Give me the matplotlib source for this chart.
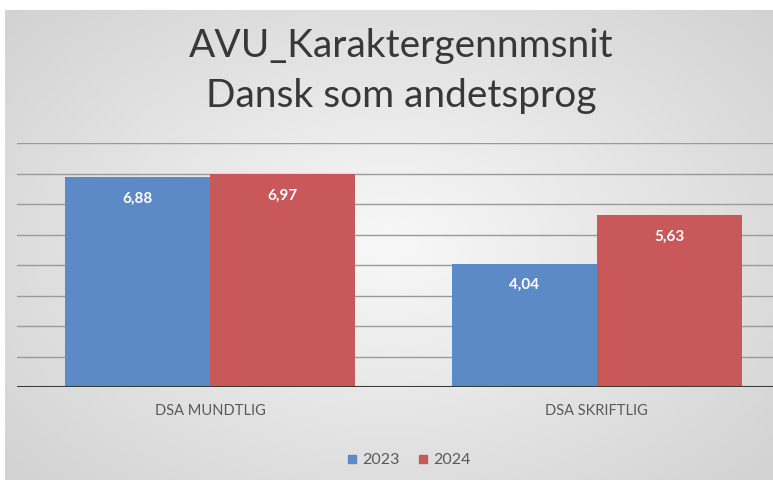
import numpy as np
import matplotlib
matplotlib.use("Agg")
import matplotlib.pyplot as plt
from matplotlib.lines import Line2D

categories = ["DSA MUNDTLIG", "DSA SKRIFTLIG"]
years = ["2023", "2024"]
values_2023 = [6.88, 4.04]
values_2024 = [6.97, 5.63]
labels_2023 = ["6,88", "4,04"]
labels_2024 = ["6,97", "5,63"]

blue = "#5B8AC6"
red = "#C9585A"

plt.rcParams['font.family'] = ['Lato', 'DejaVu Sans']

fig = plt.figure(figsize=(7.73, 4.84), dpi=100)

# radial grey background of the chart area
bg = fig.add_axes([5 / 773, 4 / 484, 1 - 5 / 773, 470 / 484])
yy, xx = np.mgrid[-1:1:300j, -1:1:480j]
r = np.sqrt((xx / 1.0) ** 2 + (yy / 1.1) ** 2)
grad = np.clip(r / 1.35, 0, 1)
bg.imshow(grad, cmap=matplotlib.colors.LinearSegmentedColormap.from_list(
    "g", ["#F8F8F8", "#D2D2D2"]), aspect="auto", extent=[0, 1, 0, 1])
bg.axis("off")

ax = fig.add_axes([17 / 773, 97 / 484, 773 / 773, 244 / 484])
ax.patch.set_alpha(0)
x = np.arange(len(categories))
w = 0.375
b1 = ax.bar(x - w / 2, values_2023, w, color=blue, edgecolor="none", zorder=3)
b2 = ax.bar(x + w / 2, values_2024, w, color=red, edgecolor="none", zorder=3)

for bars, labs in ((b1, labels_2023), (b2, labels_2024)):
    for b, lab in zip(bars, labs):
        ax.text(b.get_x() + b.get_width() / 2, b.get_height() - 0.7, lab,
                ha="center", va="center", color="white", fontsize=11,
                fontweight="bold", zorder=4)

ax.set_xlim(-0.5, 1.5)
ax.set_ylim(0, 8)
ax.set_yticks(np.arange(1, 9))
ax.yaxis.grid(True, color="#9A9A9A", lw=1, zorder=0)
ax.tick_params(left=False, labelleft=False, bottom=False)
ax.set_xticks(x)
ax.set_xticklabels(categories, fontsize=10.5, color="#595959")
ax.tick_params(axis="x", pad=9)
for s in ax.spines.values():
    s.set_visible(False)
ax.axhline(0, color="#3A3A3A", lw=2.2, zorder=5)

fig.text(401 / 773, 1 - 46 / 484, "AVU_Karaktergennmsnit", ha="center", va="center",
         fontsize=28, color="#383838")
fig.text(401 / 773, 1 - 96 / 484, "Dansk som andetsprog", ha="center", va="center",
         fontsize=28, color="#383838")

handles = [Line2D([], [], marker="s", ls="none", color=blue, markersize=6),
           Line2D([], [], marker="s", ls="none", color=red, markersize=6)]
fig.legend(handles, years, loc="center", bbox_to_anchor=(409 / 773, 1 - 460 / 484),
           ncol=2, frameon=False, fontsize=11.5, handletextpad=0.3,
           handlelength=0.6, columnspacing=1.2, labelcolor="#595959")

fig.savefig("out.png", dpi=100)
